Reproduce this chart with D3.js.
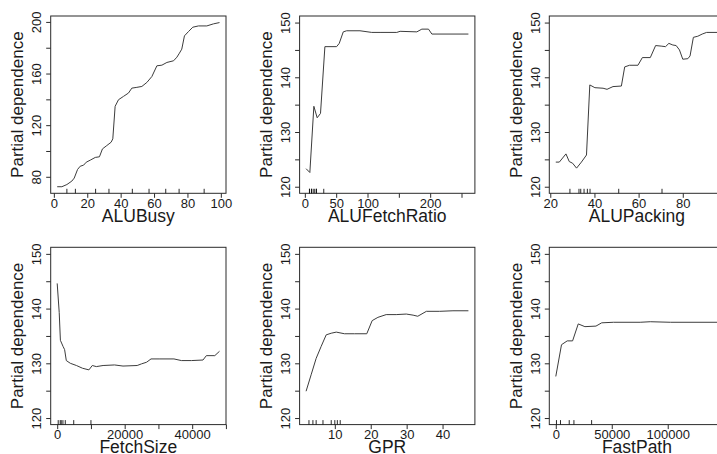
<!DOCTYPE html>
<html>
<head>
<meta charset="utf-8">
<script src="https://cdn.jsdelivr.net/npm/d3@7"></script>
<style>
  body { margin: 0; background: #fff; }
  svg { display: block; }
  text { font-family: "Liberation Sans", Arial, Helvetica, sans-serif; fill: #1a1a1a; }
</style>
</head>
<body>
<svg id="chart" width="717" height="454"></svg>
<script>
// ---- partial dependence curves ----
const aluBusyX = [2, 4.8, 7.8, 10.8, 12.2, 14.2, 15.8, 17.8, 19.4, 21.8, 24.8, 27.3, 29.1, 31.7, 34.3, 35.3, 36.7, 38.7, 41.7, 44.7, 46.7, 49.7, 52.7, 55.7, 58.7, 61.7, 64.7, 67.7, 71.7, 73.7, 75.2, 76.6, 78.2, 80.6, 83.2, 86.6, 91.6, 95.6, 99.2];
const aluBusyY = [72.3, 72.3, 74, 76.7, 79, 85.7, 88.2, 89, 91.3, 92.9, 95, 95.5, 101.6, 104.2, 106.8, 109.4, 134.6, 139.7, 142.3, 144.9, 148.7, 149.3, 150, 153.1, 157.7, 166, 166.5, 168.6, 169.9, 172.7, 175.8, 178.9, 189.2, 192.5, 195.9, 196.9, 196.9, 198.5, 199.5];

const fetchRatioX = [2, 8, 14.4, 19.7, 25, 32, 50.7, 54.9, 61.3, 66.7, 88, 106.7, 120, 146.7, 152, 178.7, 186.7, 197.3, 202.7, 261];
const fetchRatioY = [123.3, 122.6, 134.7, 132.6, 133.4, 145.6, 145.6, 146.2, 148.3, 148.5, 148.5, 148.2, 148.2, 148.2, 148.4, 148.3, 148.8, 148.8, 147.9, 147.9];

const packingX = [22.5, 24.1, 27.1, 28.6, 30.1, 31.9, 34.1, 36.4, 37.9, 40.2, 43.9, 45.7, 48.4, 52.2, 53.7, 55.9, 59.7, 61.7, 65.3, 67.7, 70.2, 72.2, 73.7, 75.5, 77, 78.5, 80, 82.3, 83.3, 84.8, 86.8, 88.8, 90.8, 96];
const packingY = [124.5, 124.5, 126, 124.6, 124.3, 123.4, 124.5, 125.8, 138.6, 138.1, 138, 137.8, 138.3, 138.4, 141.9, 142.2, 142.2, 143.6, 143.6, 145.8, 145.7, 145.6, 146.2, 145.9, 145.8, 145, 143.3, 143.4, 143.9, 147.3, 147.5, 147.9, 148.2, 148.2];

const fetchSizeX = [0, 600, 950, 1730, 2200, 2700, 3900, 5700, 7500, 9400, 10400, 11600, 13600, 17000, 19500, 23700, 25000, 26500, 27800, 30200, 34600, 36800, 39800, 43200, 44200, 46700, 48100];
const fetchSizeY = [144.6, 139.3, 134.2, 133.1, 132.5, 130.5, 130, 129.6, 129.1, 128.8, 129.6, 129.4, 129.6, 129.7, 129.5, 129.6, 129.9, 130.2, 130.8, 130.8, 130.8, 130.5, 130.5, 130.6, 131.4, 131.4, 132.2];

const gprX = [2, 3.4, 4.8, 6.2, 7.6, 9, 10.4, 12.7, 15.5, 18.9, 20.4, 22, 24.3, 27.1, 29.9, 31.8, 33.1, 35.5, 39.2, 42.9, 47.2];
const gprY = [124.9, 127.9, 130.9, 133.1, 135.2, 135.5, 135.7, 135.4, 135.4, 135.4, 137.8, 138.4, 138.9, 138.9, 139, 138.8, 138.6, 139.5, 139.5, 139.6, 139.6];

const fastPathX = [0, 5100, 10200, 15000, 20060, 26000, 35900, 41000, 51500, 75400, 84400, 102400, 145000];
const fastPathY = [127.6, 133.4, 134.1, 134.1, 137.2, 136.7, 136.8, 137.4, 137.5, 137.5, 137.6, 137.5, 137.5];

// ---- decile rugs of each predictor ----
const aluBusyRug = [7.8, 12.9, 25, 33, 47, 57, 67, 75, 90];
const fetchRatioRug = [7.4, 7.4, 10.6, 10.6, 13.3, 15.8, 18.5, 18.5, 30.2];
const packingRug = [28.9, 33, 33.8, 35.3, 36.8, 38, 51, 70.6];
const fetchSizeRug = [300, 900, 1200, 1700, 2400, 4900, 10000];
const gprRug = [2.8, 3.9, 4.8, 6.7, 9, 10, 10.7, 11.5];
const fastPathRug = [600, 4200, 12000, 16200, 32000];

// ---- axis ticks and the labels that fit ----
const aluBusyTicks = [0, 20, 40, 60, 80, 100];
const aluBusyLabels = [0, 20, 40, 60, 80, 100];
const fetchRatioTicks = [0, 50, 100, 150, 200, 250];
const fetchRatioLabels = [0, 50, 100, 200];
const packingTicks = [20, 40, 60, 80, 100];
const packingLabels = [20, 40, 60, 80];
const fetchSizeTicks = [0, 10000, 20000, 30000, 40000, 50000];
const fetchSizeLabels = [0, 20000, 40000];
const gprTicks = [10, 20, 30, 40];
const gprLabels = [10, 20, 30, 40];
const fastPathTicks = [0, 50000, 100000, 150000];
const fastPathLabels = [0, 50000, 100000];

const busyYTicks = [80, 100, 120, 140, 160, 180, 200];
const busyYLabels = [80, 120, 160, 200];
const pdYTicks = [120, 125, 130, 135, 140, 145, 150];
const pdYLabels = [120, 130, 140, 150];
const pdYLimits = [120, 150];

const panels = [
  { title: "ALUBusy", x: aluBusyX, y: aluBusyY, rug: aluBusyRug, xt: aluBusyTicks, xl: aluBusyLabels, yt: busyYTicks, yl: busyYLabels, ylim: null, col: 0, row: 0 },
  { title: "ALUFetchRatio", x: fetchRatioX, y: fetchRatioY, rug: fetchRatioRug, xt: fetchRatioTicks, xl: fetchRatioLabels, yt: pdYTicks, yl: pdYLabels, ylim: pdYLimits, col: 1, row: 0 },
  { title: "ALUPacking", x: packingX, y: packingY, rug: packingRug, xt: packingTicks, xl: packingLabels, yt: pdYTicks, yl: pdYLabels, ylim: pdYLimits, col: 2, row: 0 },
  { title: "FetchSize", x: fetchSizeX, y: fetchSizeY, rug: fetchSizeRug, xt: fetchSizeTicks, xl: fetchSizeLabels, yt: pdYTicks, yl: pdYLabels, ylim: pdYLimits, col: 0, row: 1 },
  { title: "GPR", x: gprX, y: gprY, rug: gprRug, xt: gprTicks, xl: gprLabels, yt: pdYTicks, yl: pdYLabels, ylim: pdYLimits, col: 1, row: 1 },
  { title: "FastPath", x: fastPathX, y: fastPathY, rug: fastPathRug, xt: fastPathTicks, xl: fastPathLabels, yt: pdYTicks, yl: pdYLabels, ylim: pdYLimits, col: 2, row: 1 }
];

// ---- layout of the 2 x 3 grid ----
const colLeft = [50.7, 299.6, 549.3];
const rowTop = [16, 247.3];
const boxW = 175.3, boxH = 177.3;
const tickLen = 4.5, rugLen = 4.5;
const ink = "#2b2b2b";
const fontStack = '"Liberation Sans", Arial, sans-serif';

// R-style 4% range extension
function extend([a, b]) { const d = (b - a) * 0.04; return [a - d, b + d]; }

const svg = d3.select("#chart");

panels.forEach(p => {
  const left = colLeft[p.col], top = rowTop[p.row];
  const g = svg.append("g").attr("transform", `translate(${left},${top})`);

  const xs = d3.scaleLinear().domain(extend(d3.extent(p.x))).range([0, boxW]);
  const ys = d3.scaleLinear().domain(extend(p.ylim || d3.extent(p.y))).range([boxH, 0]);

  // frame
  g.append("rect").attr("x", 0).attr("y", 0).attr("width", boxW).attr("height", boxH)
    .attr("fill", "none").attr("stroke", ink).attr("stroke-width", 1);

  // bottom axis
  const xAxis = d3.axisBottom(xs).tickValues(p.xt).tickSize(tickLen).tickPadding(2)
    .tickFormat(d => p.xl.includes(d) ? String(d) : "");
  const gx = g.append("g").attr("transform", `translate(0,${boxH})`).call(xAxis);
  gx.select(".domain").remove();
  gx.selectAll(".tick line").attr("stroke", ink);
  gx.selectAll(".tick text").attr("font-size", 13).attr("dy", null).attr("y", 14.5)
    .attr("fill", "#1a1a1a").style("font-family", fontStack);

  // left axis, labels parallel to the axis
  const yAxis = d3.axisLeft(ys).tickValues(p.yt).tickSize(tickLen)
    .tickFormat(d => p.yl.includes(d) ? String(d) : "");
  const gy = g.append("g").call(yAxis);
  gy.select(".domain").remove();
  gy.selectAll(".tick line").attr("stroke", ink);
  gy.selectAll(".tick text").attr("font-size", 13).attr("x", null).attr("dy", null)
    .attr("text-anchor", "middle").attr("transform", "translate(-9.5,0) rotate(-90)")
    .attr("fill", "#1a1a1a").style("font-family", fontStack);

  // rug of deciles
  g.append("g").selectAll("line").data(p.rug).join("line")
    .attr("x1", d => xs(d)).attr("x2", d => xs(d))
    .attr("y1", boxH).attr("y2", boxH - rugLen)
    .attr("stroke", "#111").attr("stroke-width", 0.9);

  // curve
  const pts = p.x.map((v, i) => [v, p.y[i]]);
  g.append("path").datum(pts)
    .attr("d", d3.line().x(d => xs(d[0])).y(d => ys(d[1])))
    .attr("fill", "none").attr("stroke", "#3c3c3c").attr("stroke-width", 1)
    .attr("stroke-linejoin", "round");

  // axis titles
  g.append("text").attr("x", boxW / 2).attr("y", boxH + 28.6)
    .attr("text-anchor", "middle").attr("font-size", 17.5).text(p.title);
  g.append("text").attr("transform", `translate(-27.5,${boxH / 2}) rotate(-90)`)
    .attr("text-anchor", "middle").attr("font-size", 17).text("Partial dependence");
});
</script>
</body>
</html>
